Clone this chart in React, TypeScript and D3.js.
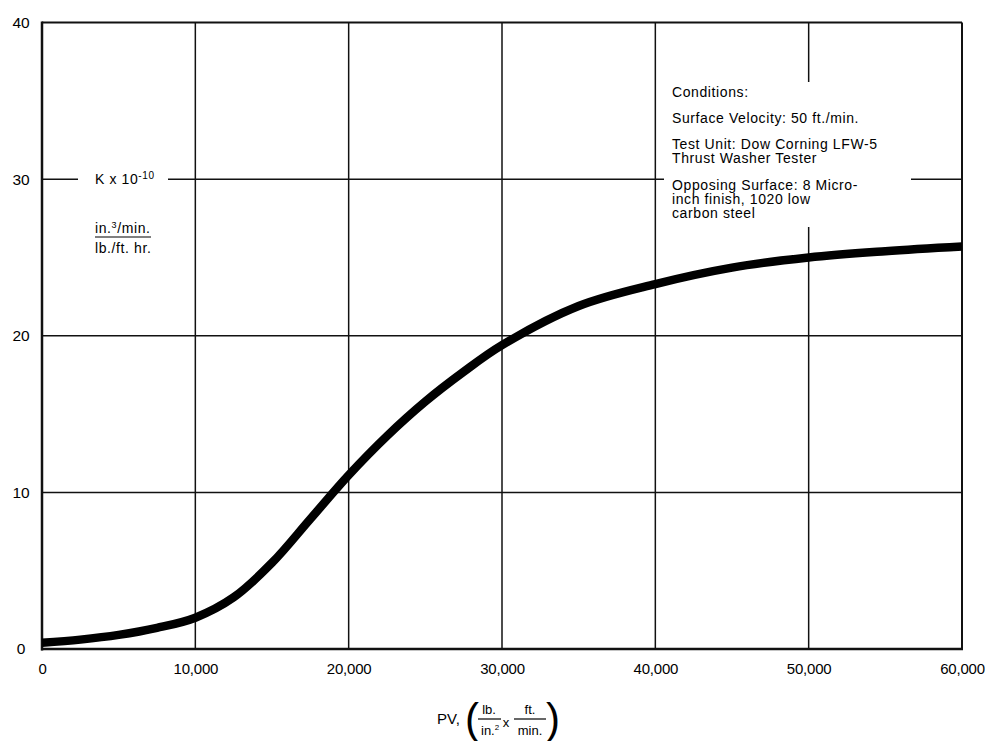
import React, { useEffect, useRef } from 'react';
import * as d3 from 'd3';

// PV (lb./in.^2 x ft./min.) vs wear factor K x 10^-10
const pvValues = [0, 2500, 5000, 7500, 10000, 12500, 15000, 17500, 20000, 22500, 25000, 27500, 30000, 35000, 40000, 45000, 50000, 55000, 60000];
const kValues = [0.4, 0.6, 0.9, 1.35, 2.0, 3.3, 5.5, 8.3, 11.1, 13.6, 15.8, 17.7, 19.4, 21.9, 23.3, 24.35, 25.0, 25.4, 25.7];

const xTicks = [0, 10000, 20000, 30000, 40000, 50000, 60000];
const yTicks = [0, 10, 20, 30, 40];

const conditionLines = [
  { text: 'Conditions:', dy: 97 },
  { text: 'Surface Velocity: 50 ft./min.', dy: 123 },
  { text: 'Test Unit: Dow Corning LFW-5', dy: 149 },
  { text: 'Thrust Washer Tester', dy: 163 },
  { text: 'Opposing Surface: 8 Micro-', dy: 190 },
  { text: 'inch finish, 1020 low', dy: 204 },
  { text: 'carbon steel', dy: 218 },
];

const FONT = '"Liberation Sans", Arial, Helvetica, sans-serif';

export default function App() {
  const ref = useRef<SVGSVGElement>(null);

  useEffect(() => {
    drawChart();
  }, []);

  function drawChart() {
    const svg = d3.select(ref.current);
    svg.selectAll('*').remove();

    const x = d3.scaleLinear().domain([0, 60000]).range([42, 962]);
    const y = d3.scaleLinear().domain([0, 40]).range([649, 22.5]);

    const grid = svg.append('g').attr('stroke', '#111').attr('stroke-width', 1.5);

    // vertical grid lines (50,000 has a gap for the conditions note)
    xTicks.slice(1, -1).forEach(v => {
      if (v === 50000) {
        grid.append('line').attr('x1', x(v)).attr('x2', x(v)).attr('y1', y(40)).attr('y2', 82);
        grid.append('line').attr('x1', x(v)).attr('x2', x(v)).attr('y1', 227).attr('y2', y(0));
      } else {
        grid.append('line').attr('x1', x(v)).attr('x2', x(v)).attr('y1', y(40)).attr('y2', y(0));
      }
    });

    // horizontal grid lines (30 has gaps for the unit label and the note)
    yTicks.slice(1, -1).forEach(v => {
      if (v === 30) {
        [[x(0), 78], [168, 664], [911, x(60000)]].forEach(([a, b]) => {
          grid.append('line').attr('x1', a).attr('x2', b).attr('y1', y(v)).attr('y2', y(v));
        });
      } else {
        grid.append('line').attr('x1', x(0)).attr('x2', x(60000)).attr('y1', y(v)).attr('y2', y(v));
      }
    });

    // frame
    grid.append('line').attr('x1', x(0)).attr('x2', x(60000)).attr('y1', y(40)).attr('y2', y(40)).attr('stroke-width', 2);
    grid.append('line').attr('x1', x(60000)).attr('x2', x(60000)).attr('y1', y(40)).attr('y2', y(0)).attr('stroke-width', 2);
    grid.append('line').attr('x1', x(0)).attr('x2', x(0)).attr('y1', y(40) - 1).attr('y2', y(0) + 1.5).attr('stroke-width', 2.5);
    grid.append('line').attr('x1', x(0) - 1).attr('x2', x(60000) + 1).attr('y1', y(0)).attr('y2', y(0)).attr('stroke-width', 2.5);

    // curve
    const line = d3.line<number>()
      .x((d, i) => x(pvValues[i]))
      .y(d => y(d))
      .curve(d3.curveCatmullRom.alpha(0.5));

    svg.append('path')
      .datum(kValues)
      .attr('fill', 'none')
      .attr('stroke', '#000')
      .attr('stroke-width', 8.5)
      .attr('stroke-linecap', 'butt')
      .attr('d', line);

    // axes
    const xAxis = svg.append('g')
      .attr('transform', `translate(0,${y(0)})`)
      .call(d3.axisBottom(x).tickValues(xTicks).tickSize(0).tickPadding(14).tickFormat(d3.format(',')));
    xAxis.select('.domain').remove();
    xAxis.selectAll('text')
      .attr('font-size', 15)
      .attr('letter-spacing', -0.2)
      .attr('font-family', FONT)
      .attr('fill', '#000');

    const yAxis = svg.append('g')
      .attr('transform', 'translate(21,0)')
      .call(d3.axisLeft(y).tickValues(yTicks).tickSize(0));
    yAxis.select('.domain').remove();
    yAxis.selectAll('text')
      .attr('x', 0)
      .attr('text-anchor', 'middle')
      .attr('font-size', 15.5)
      .attr('font-family', FONT)
      .attr('fill', '#000');

    // y unit label
    const yl = svg.append('g').attr('font-family', FONT).attr('fill', '#000').attr('letter-spacing', 0.6);
    const kt = yl.append('text').attr('x', 95).attr('y', 184).attr('font-size', 14);
    kt.append('tspan').text('K x 10');
    kt.append('tspan').attr('dy', -5).attr('font-size', 10).text('-10');
    const num = yl.append('text').attr('x', 95).attr('y', 233).attr('font-size', 14);
    num.append('tspan').text('in.');
    num.append('tspan').attr('dy', -5).attr('font-size', 9).text('3');
    num.append('tspan').attr('dy', 5).text('/min.');
    yl.append('line').attr('x1', 95).attr('x2', 151).attr('y1', 237).attr('y2', 237).attr('stroke', '#000').attr('stroke-width', 1.2);
    yl.append('text').attr('x', 95).attr('y', 253).attr('font-size', 14).text('lb./ft. hr.');

    // conditions note
    const note = svg.append('g')
      .attr('font-family', FONT)
      .attr('font-size', 14)
      .attr('letter-spacing', 0.6)
      .attr('fill', '#000');
    note.selectAll('text')
      .data(conditionLines)
      .join('text')
      .attr('x', 672)
      .attr('y', d => d.dy)
      .text(d => d.text);

    // x axis title
    const xl = svg.append('g').attr('font-family', FONT).attr('fill', '#000');
    xl.append('text').attr('x', 437).attr('y', 724).attr('font-size', 15).text('PV,');
    xl.append('text').attr('x', 465).attr('y', 733).attr('font-size', 42).text('(');
    xl.append('text').attr('x', 546).attr('y', 733).attr('font-size', 42).text(')');
    xl.append('text').attr('x', 489).attr('y', 714).attr('font-size', 13).attr('text-anchor', 'middle').text('lb.');
    xl.append('line').attr('x1', 478).attr('x2', 501).attr('y1', 719).attr('y2', 719).attr('stroke', '#000').attr('stroke-width', 1.2);
    const inch = xl.append('text').attr('x', 481).attr('y', 735).attr('font-size', 13);
    inch.append('tspan').text('in.');
    inch.append('tspan').attr('dy', -5).attr('font-size', 8).text('2');
    xl.append('text').attr('x', 506).attr('y', 727).attr('font-size', 13).attr('text-anchor', 'middle').text('x');
    xl.append('text').attr('x', 530).attr('y', 714).attr('font-size', 13).attr('text-anchor', 'middle').text('ft.');
    xl.append('line').attr('x1', 514).attr('x2', 546).attr('y1', 719).attr('y2', 719).attr('stroke', '#000').attr('stroke-width', 1.2);
    xl.append('text').attr('x', 530).attr('y', 735).attr('font-size', 13).attr('text-anchor', 'middle').text('min.');
  }

  return (
    <svg
      ref={ref}
      width={985}
      height={741}
      viewBox="0 0 985 741"
      style={{ position: 'absolute', left: 0, top: 0, background: '#fff' }}
    />
  );
}
